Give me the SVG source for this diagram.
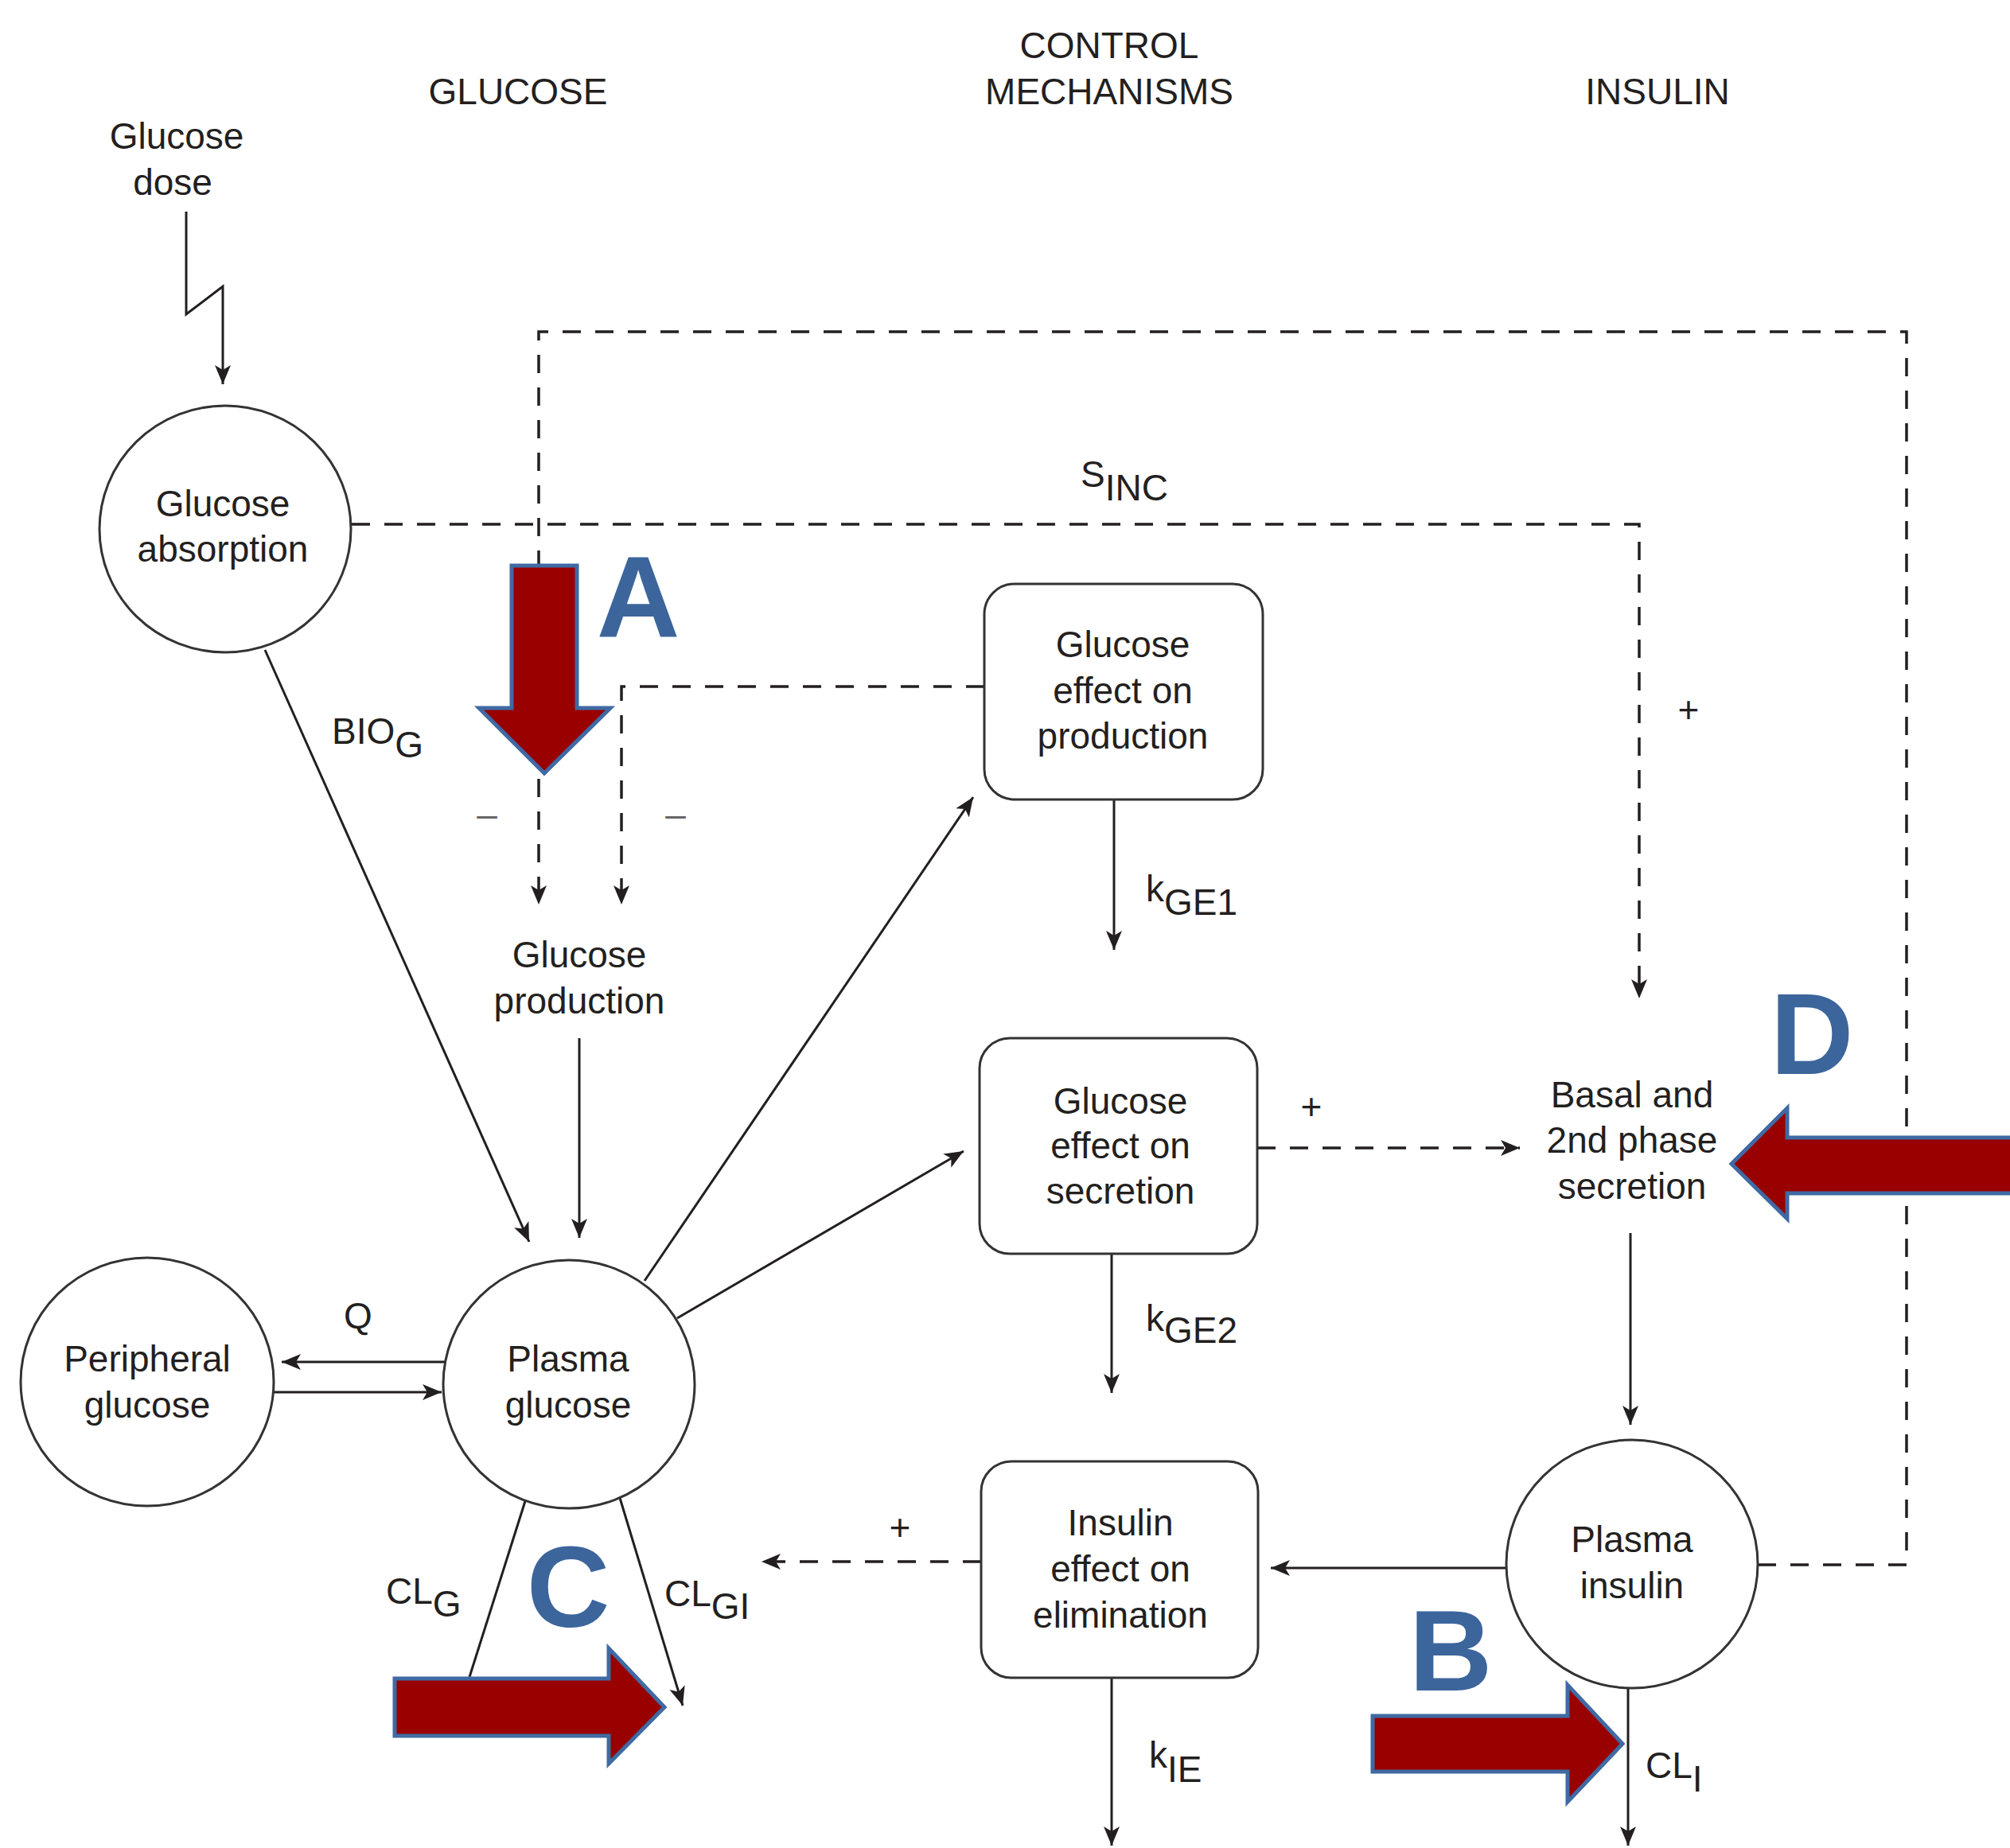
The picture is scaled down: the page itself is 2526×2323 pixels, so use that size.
<svg xmlns="http://www.w3.org/2000/svg" width="2526" height="2323" viewBox="0 0 2526 2323">
<style>
text{font-family:"Liberation Sans",Arial,sans-serif;font-size:46px;fill:#231f20;text-anchor:middle}
.lbl{text-anchor:start}
.node{fill:#fff;stroke:#333;stroke-width:3}
.solid{fill:none;stroke:#231f20;stroke-width:3}
.dash{fill:none;stroke:#231f20;stroke-width:3.5;stroke-dasharray:23 18}
.red{fill:#990000;stroke:#3f6aa3;stroke-width:5;stroke-linejoin:miter}
.big{font-weight:bold;font-size:145px;fill:#3c659c}
.minus{fill:#666}
</style>
<defs>
<marker id="ah" markerUnits="userSpaceOnUse" markerWidth="26" markerHeight="22" refX="24" refY="11" orient="auto">
<path d="M0,1 L24,11 L0,21 L6,11 z" fill="#231f20"/>
</marker>
</defs>
<rect width="2526" height="2323" fill="#fff"/>

<g id="headers">
<text x="651" y="131">GLUCOSE</text>
<text x="1394" y="73">CONTROL</text>
<text x="1394" y="131">MECHANISMS</text>
<text x="2083" y="131">INSULIN</text>
<text x="222" y="187">Glucose</text>
<text x="217" y="245">dose</text>
</g>

<g id="connectors">
<path class="solid" d="M234,266 L234,395 L280,360 L280,483" marker-end="url(#ah)"/>
<path class="dash" d="M442,659 H2060 V1255" marker-end="url(#ah)"/>
<path class="dash" d="M2209,1967 H2396 V417 H677 V1137" marker-end="url(#ah)"/>
<path class="dash" d="M1237,863 H781 V1137" marker-end="url(#ah)"/>
<path class="solid" d="M728,1305 V1556" marker-end="url(#ah)"/>
<path class="solid" d="M333,817 L665,1561" marker-end="url(#ah)"/>
<path class="solid" d="M810,1610 L1223,1002" marker-end="url(#ah)"/>
<path class="solid" d="M851,1657 L1211,1447" marker-end="url(#ah)"/>
<path class="solid" d="M1400,1005 V1194" marker-end="url(#ah)"/>
<path class="solid" d="M1397,1576 V1751" marker-end="url(#ah)"/>
<path class="dash" d="M1580,1443 H1910" marker-end="url(#ah)"/>
<path class="solid" d="M2049,1550 V1791" marker-end="url(#ah)"/>
<path class="solid" d="M559,1712 H354" marker-end="url(#ah)"/>
<path class="solid" d="M344,1750 H555" marker-end="url(#ah)"/>
<path class="solid" d="M660,1887 L590,2108"/>
<path class="solid" d="M779,1883 L858,2144" marker-end="url(#ah)"/>
<path class="dash" d="M1233,1963 H957" marker-end="url(#ah)"/>
<path class="solid" d="M1893,1971 H1597" marker-end="url(#ah)"/>
<path class="solid" d="M1397,2109 V2320" marker-end="url(#ah)"/>
<path class="solid" d="M2046,2122 V2320" marker-end="url(#ah)"/>
</g>

<g id="labels">
<text class="lbl" x="1358" y="612">S<tspan y="629">INC</tspan></text>
<text class="lbl" x="417" y="935">BIO<tspan y="952">G</tspan></text>
<text class="lbl" x="1440" y="1133">k<tspan y="1150">GE1</tspan></text>
<text class="lbl" x="1440" y="1673">k<tspan y="1688">GE2</tspan></text>
<text class="lbl" x="1444" y="2222">k<tspan y="2240">IE</tspan></text>
<text class="lbl" x="2068" y="2235">CL<tspan y="2252">I</tspan></text>
<text class="lbl" x="485" y="2016">CL<tspan y="2032">G</tspan></text>
<text class="lbl" x="835" y="2019">CL<tspan y="2035">GI</tspan></text>
<text x="450" y="1670">Q</text>
<text x="2122" y="908">+</text>
<text x="1648" y="1407">+</text>
<text x="1131" y="1936">+</text>
<text class="minus" x="612" y="1039">–</text>
<text class="minus" x="849" y="1039">–</text>
</g>

<g id="glucose-absorption">
<ellipse class="node" cx="283" cy="665" rx="158" ry="155"/>
<text x="280" y="649">Glucose</text>
<text x="280" y="706">absorption</text>
</g>
<g id="glucose-production">
<text x="728" y="1216">Glucose</text>
<text x="728" y="1274">production</text>
</g>
<g id="plasma-glucose">
<ellipse class="node" cx="715" cy="1740" rx="158" ry="156"/>
<text x="714" y="1724">Plasma</text>
<text x="714" y="1782">glucose</text>
</g>
<g id="peripheral-glucose">
<ellipse class="node" cx="185" cy="1737" rx="159" ry="156"/>
<text x="185" y="1724">Peripheral</text>
<text x="185" y="1782">glucose</text>
</g>
<g id="plasma-insulin">
<ellipse class="node" cx="2051" cy="1966" rx="158" ry="156"/>
<text x="2051" y="1951">Plasma</text>
<text x="2051" y="2009">insulin</text>
</g>
<g id="glucose-effect-production">
<rect class="node" x="1237" y="734" width="350" height="271" rx="38"/>
<text x="1411" y="826">Glucose</text>
<text x="1411" y="884">effect on</text>
<text x="1411" y="941">production</text>
</g>
<g id="glucose-effect-secretion">
<rect class="node" x="1231" y="1305" width="349" height="271" rx="38"/>
<text x="1408" y="1400">Glucose</text>
<text x="1408" y="1456">effect on</text>
<text x="1408" y="1513">secretion</text>
</g>
<g id="insulin-effect-elimination">
<rect class="node" x="1233" y="1837" width="348" height="272" rx="38"/>
<text x="1408" y="1930">Insulin</text>
<text x="1408" y="1988">effect on</text>
<text x="1408" y="2046">elimination</text>
</g>
<g id="basal-secretion">
<text x="2051" y="1392">Basal and</text>
<text x="2051" y="1449">2nd phase</text>
<text x="2051" y="1507">secretion</text>
</g>

<g id="highlight-A">
<polygon class="red" points="643,711 725,711 725,890 767,890 684,972 602,890 643,890"/>
<text class="big" x="802" y="800">A</text>
</g>
<g id="highlight-B">
<polygon class="red" points="1725,2157 1970,2157 1970,2118 2039,2192 1970,2265 1970,2227 1725,2227"/>
<text class="big" x="1823" y="2125">B</text>
</g>
<g id="highlight-C">
<polygon class="red" points="496,2110 765,2110 765,2072 835,2146 765,2217 765,2182 496,2182"/>
<text class="big" x="714" y="2045">C</text>
</g>
<g id="highlight-D">
<polygon class="red" points="2540,1430 2246,1430 2246,1393 2176,1463 2246,1532 2246,1500 2540,1500"/>
<text class="big" x="2277" y="1350">D</text>
</g>
</svg>
